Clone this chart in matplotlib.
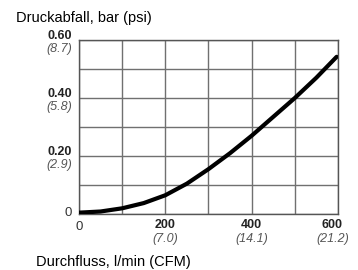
import numpy as np
import matplotlib
matplotlib.use("Agg")
import matplotlib.pyplot as plt
from matplotlib import transforms

plt.rcParams['font.family'] = ['Liberation Sans', 'DejaVu Sans']

# Durchfluss l/min, Druckabfall bar
flow = [0, 50, 100, 150, 200, 250, 300, 350, 400, 450, 500, 550, 597]
drop = [0.005, 0.009, 0.02, 0.038, 0.065, 0.105, 0.155, 0.21, 0.27, 0.335, 0.40, 0.47, 0.542]

yticks = [0.2, 0.4, 0.6]
ylabels = ['0.20', '0.40', '0.60']
ypsi = ['(2.9)', '(5.8)', '(8.7)']
xticks = [200, 400, 600]
xlabels = ['200', '400', '600']
xcfm = ['(7.0)', '(14.1)', '(21.2)']

fig = plt.figure(figsize=(3.58, 2.70), dpi=100)
ax = fig.add_axes([0.2207, 0.207, 0.7233, 0.645])

ax.plot(flow, drop, color='black', lw=3.0, solid_capstyle='round', zorder=3)

ax.set_xlim(0, 600)
ax.set_ylim(0, 0.6)
ax.set_xticks(np.arange(0, 601, 100))
ax.set_yticks(np.arange(0, 0.61, 0.1))
ax.grid(True, color='#707070', lw=1.0)
ax.tick_params(length=0, labelbottom=False, labelleft=False)
for s in ax.spines.values():
    s.set_color('#555555')
    s.set_linewidth(1.0)

# y tick labels
ytr = transforms.blended_transform_factory(ax.transAxes, ax.transData)
for v, a, b in zip(yticks, ylabels, ypsi):
    t1 = transforms.offset_copy(ytr, fig=fig, x=-5, y=3, units='points')
    t2 = transforms.offset_copy(ytr, fig=fig, x=-5, y=-6.5, units='points')
    ax.text(0, v, a, transform=t1, ha='right', va='center', fontsize=9,
            fontweight='bold', color='#222222')
    ax.text(0, v, b, transform=t2, ha='right', va='center', fontsize=9,
            style='italic', color='#555555')
t0 = transforms.offset_copy(ytr, fig=fig, x=-5, y=1, units='points')
ax.text(0, 0, '0', transform=t0, ha='right', va='center', fontsize=9.5, color='#333333')

# x tick labels
xtr = transforms.blended_transform_factory(ax.transData, ax.transAxes)
for v, a, b in zip(xticks, xlabels, xcfm):
    dx = -4 if v == 600 else 0
    t1 = transforms.offset_copy(xtr, fig=fig, x=dx, y=-8, units='points')
    t2 = transforms.offset_copy(xtr, fig=fig, x=dx, y=-18, units='points')
    ax.text(v, 0, a, transform=t1, ha='center', va='center', fontsize=9,
            fontweight='bold', color='#222222')
    ax.text(v, 0, b, transform=t2, ha='center', va='center', fontsize=9,
            style='italic', color='#555555')
t0 = transforms.offset_copy(xtr, fig=fig, x=0, y=-9, units='points')
ax.text(0, 0, '0', transform=t0, ha='center', va='center', fontsize=9.5, color='#333333')

fig.text(16 / 358, 1 - 18 / 270, 'Druckabfall, bar (psi)', ha='left', va='center',
         fontsize=10.5, color='black')
fig.text(36 / 358, 1 - 262 / 270, 'Durchfluss, l/min (CFM)', ha='left', va='center',
         fontsize=10.5, color='black')

fig.savefig('out.png', dpi=100)
